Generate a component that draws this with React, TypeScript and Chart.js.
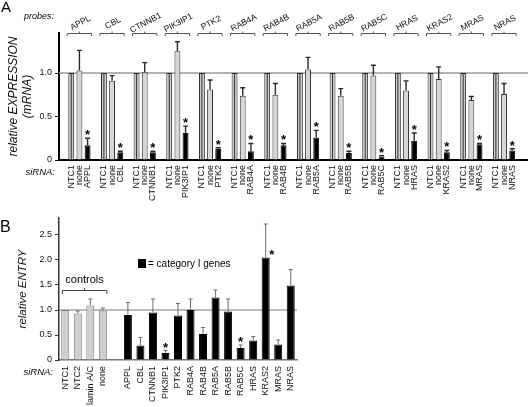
import React, { useEffect, useRef } from "react";
import { Chart, registerables } from "chart.js";
Chart.register(...registerables);

const FONT = "'Liberation Sans', Arial, sans-serif";

// ---------- Panel A data (relative expression, mRNA) ----------
const probes = ["APPL", "CBL", "CTNNB1", "PIK3IP1", "PTK2", "RAB4A", "RAB4B", "RAB5A", "RAB5B", "RAB5C", "HRAS", "KRAS2", "MRAS", "NRAS"];
const ntc1Expr = [1, 1, 1, 1, 1, 1, 1, 1, 1, 1, 1, 1, 1, 1];
const noneExpr = [1.03, 0.91, 1.01, 1.25, 0.81, 0.74, 0.75, 1.04, 0.74, 0.97, 0.8, 0.93, 0.69, 0.76];
const noneExprErr = [1.26, 0.97, 1.12, 1.36, 0.92, 0.83, 0.88, 1.18, 0.82, 1.09, 0.91, 1.07, 0.73, 0.88];
const geneExpr = [0.17, 0.09, 0.09, 0.31, 0.13, 0.1, 0.17, 0.26, 0.08, 0.04, 0.22, 0.09, 0.18, 0.11];
const geneExprErr = [0.25, 0.1, 0.1, 0.39, 0.14, 0.19, 0.19, 0.34, 0.1, 0.05, 0.31, 0.11, 0.19, 0.13];
const siRNAControlsA = ["NTC1", "none"];
const ticksA = [0, 0.5, 1.0];

// ---------- Panel B data (relative entry) ----------
const controlLabels = ["NTC1", "NTC2", "lamin A/C", "none"];
const controlEntry = [1.0, 0.93, 1.09, 0.99];
const controlEntryErr = [1.0, 0.98, 1.22, 1.04];
const geneLabels = ["APPL", "CBL", "CTNNB1", "PIK3IP1", "PTK2", "RAB4A", "RAB4B", "RAB5A", "RAB5B", "RAB5C", "HRAS", "KRAS2", "MRAS", "NRAS"];
const geneEntry = [0.9, 0.29, 0.95, 0.14, 0.89, 1.0, 0.52, 1.25, 0.97, 0.24, 0.39, 2.05, 0.31, 1.49];
const geneEntryErr = [1.15, 0.45, 1.22, 0.19, 1.13, 1.22, 0.65, 1.4, 1.22, 0.3, 0.47, 2.72, 0.4, 1.81];
const starredEntry = ["PIK3IP1", "RAB5C", "KRAS2"];
const starBesideBar = ["KRAS2"];

// ---------- derived tables ----------
const labelsA: string[] = [];
const valuesA: (number | null)[] = [];
const fillA: string[] = [];
const borderA: string[] = [];
probes.forEach((p, i) => {
  labelsA.push("", siRNAControlsA[0], siRNAControlsA[1], p);
  valuesA.push(null, ntc1Expr[i], noneExpr[i], geneExpr[i]);
  fillA.push("#000", "#c9c9c9", "#d6d6d6", "#000");
  borderA.push("#000", "#222", "#333", "#000");
});

const labelsB: string[] = [...controlLabels, "", ...geneLabels];
const valuesB: (number | null)[] = [...controlEntry, null, ...geneEntry];
const errB: (number | null)[] = [...controlEntryErr, null, ...geneEntryErr];
const fillB: string[] = [...controlLabels.map(() => "#cfcfcf"), "#000", ...geneLabels.map(() => "#000")];
const borderB: string[] = [...controlLabels.map(() => "#7a7a7a"), "#000", ...geneLabels.map(() => "#000")];

function drawErr(ctx: CanvasRenderingContext2D, x: number, yBar: number, yTop: number, cap: number) {
  ctx.beginPath();
  ctx.moveTo(x, yBar);
  ctx.lineTo(x, yTop);
  ctx.moveTo(x - cap / 2, yTop);
  ctx.lineTo(x + cap / 2, yTop);
  ctx.stroke();
}

const panelAPlugin = {
  id: "panelA",
  beforeDatasetsDraw(chart: any) {
    const { ctx, chartArea, scales } = chart;
    const y1 = scales.y.getPixelForValue(1);
    ctx.save();
    ctx.strokeStyle = "#9a9a9a";
    ctx.lineWidth = 1.5;
    ctx.beginPath();
    ctx.moveTo(chartArea.left, y1);
    ctx.lineTo(528, y1);
    ctx.stroke();
    ctx.restore();
  },
  afterDatasetsDraw(chart: any) {
    const { ctx, scales } = chart;
    const { x, y } = scales;
    ctx.save();
    probes.forEach((p, i) => {
      // NTC1 split line
      const xn = x.getPixelForValue(4 * i + 1);
      ctx.strokeStyle = "#333";
      ctx.lineWidth = 1;
      ctx.beginPath();
      ctx.moveTo(xn, y.getPixelForValue(0));
      ctx.lineTo(xn, y.getPixelForValue(ntc1Expr[i]));
      ctx.stroke();
      // error bars
      ctx.strokeStyle = "#2a2a2a";
      ctx.lineWidth = 1.4;
      const xo = x.getPixelForValue(4 * i + 2);
      drawErr(ctx, xo, y.getPixelForValue(noneExpr[i]), y.getPixelForValue(noneExprErr[i]), 5);
      const xg = x.getPixelForValue(4 * i + 3);
      const yt = y.getPixelForValue(geneExprErr[i]);
      drawErr(ctx, xg, y.getPixelForValue(geneExpr[i]), yt, 5);
      // star
      ctx.fillStyle = "#000";
      ctx.font = `bold 13px ${FONT}`;
      ctx.textAlign = "center";
      ctx.textBaseline = "alphabetic";
      ctx.fillText("*", xg, yt + 1);
    });
    ctx.restore();
  },
  afterDraw(chart: any) {
    const { ctx, chartArea, scales } = chart;
    const { x } = scales;
    ctx.save();
    // extend base line
    ctx.strokeStyle = "#000";
    ctx.lineWidth = 2;
    ctx.beginPath();
    ctx.moveTo(chartArea.right - 1, chartArea.bottom);
    ctx.lineTo(528, chartArea.bottom);
    ctx.stroke();
    // panel letter
    ctx.fillStyle = "#000";
    ctx.font = `15px ${FONT}`;
    ctx.textAlign = "left";
    ctx.textBaseline = "alphabetic";
    ctx.fillText("A", 1, 12);
    // probes label
    ctx.font = `italic 9px ${FONT}`;
    ctx.textAlign = "right";
    ctx.fillText("probes:", 54, 19);
    // siRNA label
    ctx.font = `italic 9.5px ${FONT}`;
    ctx.fillText("siRNA:", 55, 175);
    // probe names and brackets
    probes.forEach((p, i) => {
      const xc = x.getPixelForValue(4 * i + 2);
      const xl = x.getPixelForValue(4 * i + 1) - 4;
      const xr = x.getPixelForValue(4 * i + 3) + 4;
      ctx.save();
      ctx.translate(xc + 1, 23);
      ctx.rotate(-Math.PI / 6.5);
      ctx.font = `8.5px ${FONT}`;
      ctx.fillStyle = "#111";
      ctx.textAlign = "center";
      ctx.textBaseline = "middle";
      ctx.fillText(p, 0, 0);
      ctx.restore();
      ctx.strokeStyle = "#555";
      ctx.lineWidth = 1;
      ctx.beginPath();
      ctx.moveTo(xl, 36);
      ctx.lineTo(xl, 33.5);
      ctx.lineTo(xr, 33.5);
      ctx.lineTo(xr, 36);
      ctx.moveTo(xc, 33.5);
      ctx.lineTo(xc, 31.5);
      ctx.stroke();
    });
    ctx.restore();
  },
};

const panelBPlugin = {
  id: "panelB",
  beforeDatasetsDraw(chart: any) {
    const { ctx, chartArea, scales } = chart;
    const y1 = scales.y.getPixelForValue(1);
    ctx.save();
    ctx.strokeStyle = "#7a7a7a";
    ctx.lineWidth = 1;
    ctx.beginPath();
    ctx.moveTo(chartArea.left, y1);
    ctx.lineTo(chartArea.right, y1);
    ctx.stroke();
    ctx.restore();
  },
  afterDatasetsDraw(chart: any) {
    const { ctx, scales } = chart;
    const { x, y } = scales;
    ctx.save();
    ctx.strokeStyle = "#6a6a6a";
    ctx.lineWidth = 1;
    labelsB.forEach((lab, i) => {
      const v = valuesB[i];
      const e = errB[i];
      if (v == null || e == null || e <= v) return;
      const xp = x.getPixelForValue(i);
      drawErr(ctx, xp, y.getPixelForValue(v), y.getPixelForValue(e), 4);
    });
    ctx.fillStyle = "#000";
    ctx.font = `bold 13px ${FONT}`;
    ctx.textAlign = "center";
    ctx.textBaseline = "alphabetic";
    labelsB.forEach((lab, i) => {
      if (!starredEntry.includes(lab)) return;
      const xp = x.getPixelForValue(i);
      if (starBesideBar.includes(lab)) {
        ctx.fillText("*", xp + 6, y.getPixelForValue(valuesB[i] as number) + 1);
      } else {
        ctx.fillText("*", xp, y.getPixelForValue(errB[i] as number) + 1);
      }
    });
    ctx.restore();
  },
  afterDraw(chart: any) {
    const { ctx, scales } = chart;
    const { x } = scales;
    ctx.save();
    ctx.fillStyle = "#000";
    ctx.font = `16px ${FONT}`;
    ctx.textAlign = "left";
    ctx.textBaseline = "alphabetic";
    ctx.fillText("B", 0, 29);
    ctx.font = `italic 9.5px ${FONT}`;
    ctx.textAlign = "right";
    ctx.fillText("siRNA:", 53, 172);
    // legend
    ctx.fillRect(138, 56, 8, 9);
    ctx.font = `10px ${FONT}`;
    ctx.textAlign = "left";
    ctx.textBaseline = "middle";
    ctx.fillText("= category I genes", 148, 61);
    // controls bracket
    const xl = x.getPixelForValue(0) - 3;
    const xr = x.getPixelForValue(controlLabels.length - 1) + 4;
    const xc = (xl + xr) / 2;
    ctx.font = `11px ${FONT}`;
    ctx.textAlign = "center";
    ctx.fillText("controls", xc, 77);
    ctx.strokeStyle = "#444";
    ctx.lineWidth = 1;
    ctx.beginPath();
    ctx.moveTo(xl, 91);
    ctx.lineTo(xl, 87.5);
    ctx.lineTo(xr, 87.5);
    ctx.lineTo(xr, 91);
    ctx.moveTo(xc, 87.5);
    ctx.lineTo(xc, 85);
    ctx.stroke();
    ctx.restore();
  },
};

const tickCb = (v: any) => (Number(v) === 0 ? "0" : Number(v).toFixed(1));

export default function App() {
  const refA = useRef<HTMLCanvasElement>(null);
  const refB = useRef<HTMLCanvasElement>(null);

  useEffect(() => {
    const chartA = new Chart(refA.current as HTMLCanvasElement, {
      type: "bar",
      data: {
        labels: labelsA,
        datasets: [
          {
            data: valuesA as any,
            backgroundColor: fillA,
            borderColor: borderA,
            borderWidth: 1,
            barPercentage: 0.72,
            categoryPercentage: 1,
          },
        ],
      },
      options: {
        responsive: false,
        animation: false,
        events: [],
        layout: { padding: { top: 33, left: 0, right: 1, bottom: 0 } },
        plugins: { legend: { display: false }, tooltip: { enabled: false } },
        scales: {
          x: {
            afterFit: (s: any) => {
              s.height = 43;
            },
            ticks: { autoSkip: false, maxRotation: 90, minRotation: 90, font: { size: 9, family: FONT }, color: "#111", padding: 5 },
            grid: { display: false, drawTicks: false },
            border: { color: "#000", width: 2 },
          },
          y: {
            min: 0,
            max: 1.46,
            afterFit: (s: any) => {
              s.width = 59;
            },
            afterBuildTicks: (s: any) => {
              s.ticks = ticksA.map((v) => ({ value: v }));
            },
            ticks: { font: { size: 9, family: FONT }, color: "#111", padding: 3, callback: tickCb },
            grid: { drawOnChartArea: false, tickLength: 4, color: "#111" },
            border: { color: "#000", width: 2 },
            title: {
              display: true,
              text: ["relative EXPRESSION", "(mRNA)"],
              font: { size: 12, style: "italic", family: FONT },
              color: "#111",
              padding: { top: 6, bottom: 0 },
            },
          },
        },
      },
      plugins: [panelAPlugin],
    } as any);

    const chartB = new Chart(refB.current as HTMLCanvasElement, {
      type: "bar",
      data: {
        labels: labelsB,
        datasets: [
          {
            data: valuesB as any,
            backgroundColor: fillB,
            borderColor: borderB,
            borderWidth: 1,
            barPercentage: 0.64,
            categoryPercentage: 1,
          },
        ],
      },
      options: {
        responsive: false,
        animation: false,
        events: [],
        layout: { padding: { top: 15, left: 0, right: 231, bottom: 0 } },
        plugins: { legend: { display: false }, tooltip: { enabled: false } },
        scales: {
          x: {
            afterFit: (s: any) => {
              s.height = 47;
            },
            ticks: { autoSkip: false, maxRotation: 90, minRotation: 90, font: { size: 9, family: FONT }, color: "#111", padding: 6 },
            grid: { display: false, drawTicks: false },
            border: { color: "#777", width: 1.5 },
          },
          y: {
            min: 0,
            max: 2.84,
            afterFit: (s: any) => {
              s.width = 59;
            },
            ticks: { stepSize: 0.5, includeBounds: false, font: { size: 9, family: FONT }, color: "#111", padding: 3, callback: tickCb },
            grid: { drawOnChartArea: false, tickLength: 4, color: "#333" },
            border: { color: "#333", width: 1.5 },
            title: {
              display: true,
              text: "relative ENTRY",
              font: { size: 11.5, style: "italic", family: FONT },
              color: "#111",
              padding: { top: 15.5, bottom: 0 },
            },
          },
        },
      },
      plugins: [panelBPlugin],
    } as any);

    return () => {
      chartA.destroy();
      chartB.destroy();
    };
  }, []);

  return (
    <div style={{ position: "fixed", left: 0, top: 0, width: 528, height: 407, background: "#fff", overflow: "hidden" }}>
      <canvas ref={refA} width={528} height={203} style={{ position: "absolute", left: 0, top: 0, width: 528, height: 203 }} />
      <canvas ref={refB} width={528} height={204} style={{ position: "absolute", left: 0, top: 203, width: 528, height: 204 }} />
    </div>
  );
}
